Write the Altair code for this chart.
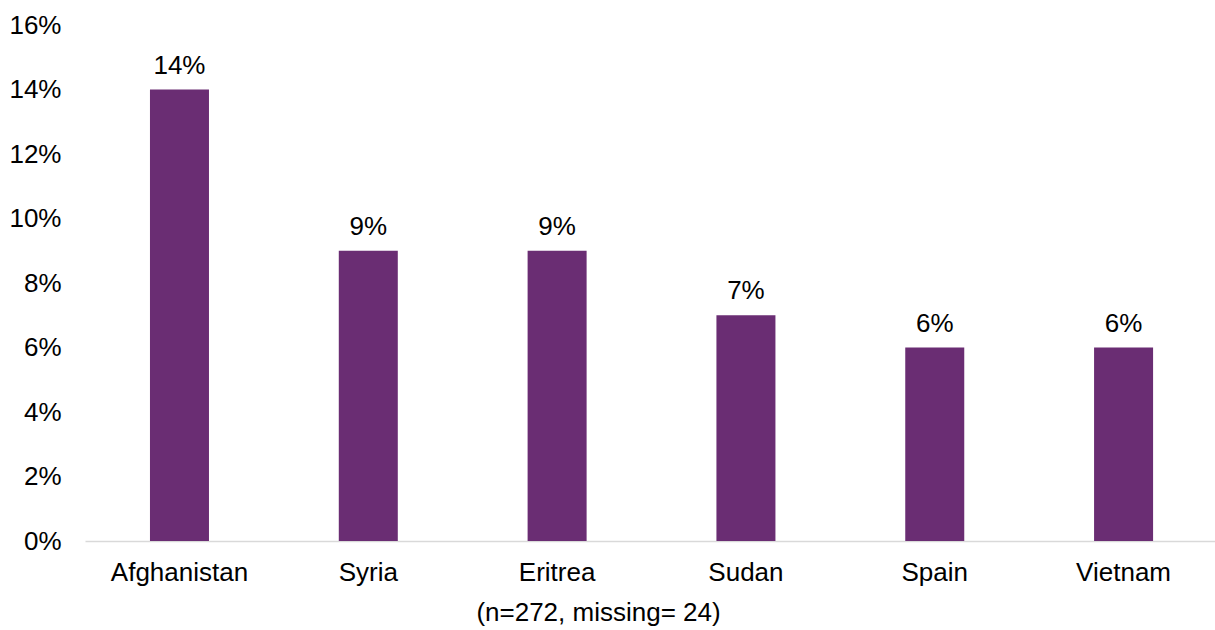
import altair as alt
import pandas as pd

# Share of respondents by country of birth
countries = ["Afghanistan", "Syria", "Eritrea", "Sudan", "Spain", "Vietnam"]
shares = [0.14, 0.09, 0.09, 0.07, 0.06, 0.06]
y_ticks = [0, 0.02, 0.04, 0.06, 0.08, 0.10, 0.12, 0.14, 0.16]
note = "(n=272, missing= 24)"

df = pd.DataFrame({"country": countries, "share": shares})

FONT = "Liberation Sans"
PURPLE = "#6A2D73"

x_enc = alt.X(
    "country:N",
    sort=countries,
    scale=alt.Scale(paddingInner=0.6875, paddingOuter=0.336, align=0.512),
    axis=alt.Axis(
        title=note,
        titleFont=FONT,
        titleFontSize=26,
        titleFontWeight="normal",
        titleColor="#000000",
        titleX=513,
        titleY=79,
        titleAlign="center",
        titleBaseline="alphabetic",
        labelFont=FONT,
        labelFontSize=26,
        labelColor="#000000",
        labelAngle=0,
        labelBaseline="alphabetic",
        labelPadding=39,
        ticks=False,
        tickSize=0,
        domainColor="#D9D9D9",
        domainWidth=1.3,
        grid=False,
    ),
)

y_enc = alt.Y(
    "share:Q",
    scale=alt.Scale(domain=[0, 0.16], nice=False),
    axis=alt.Axis(
        title=None,
        values=y_ticks,
        format=".0%",
        labelFont=FONT,
        labelFontSize=26,
        labelColor="#000000",
        labelPadding=24,
        ticks=False,
        tickSize=0,
        domain=False,
        grid=False,
    ),
)

bars = alt.Chart(df).mark_bar(color=PURPLE).encode(x=x_enc, y=y_enc)

labels = alt.Chart(df).mark_text(
    font=FONT, fontSize=26, color="#000000", baseline="alphabetic", dy=-16
).encode(
    x=alt.X("country:N", sort=countries),
    y=alt.Y("share:Q"),
    text=alt.Text("share:Q", format=".0%"),
)

chart = (
    alt.layer(bars, labels)
    .properties(
        width=1130,
        height=516,
        background="#FFFFFF",
        autosize=alt.AutoSizeParams(type="none"),
        padding={"left": 85, "top": 25, "right": 0, "bottom": 89},
    )
    .configure_view(strokeWidth=0, stroke="transparent")
)

chart.save("out.html", embed_options={"renderer": "svg", "actions": False})
